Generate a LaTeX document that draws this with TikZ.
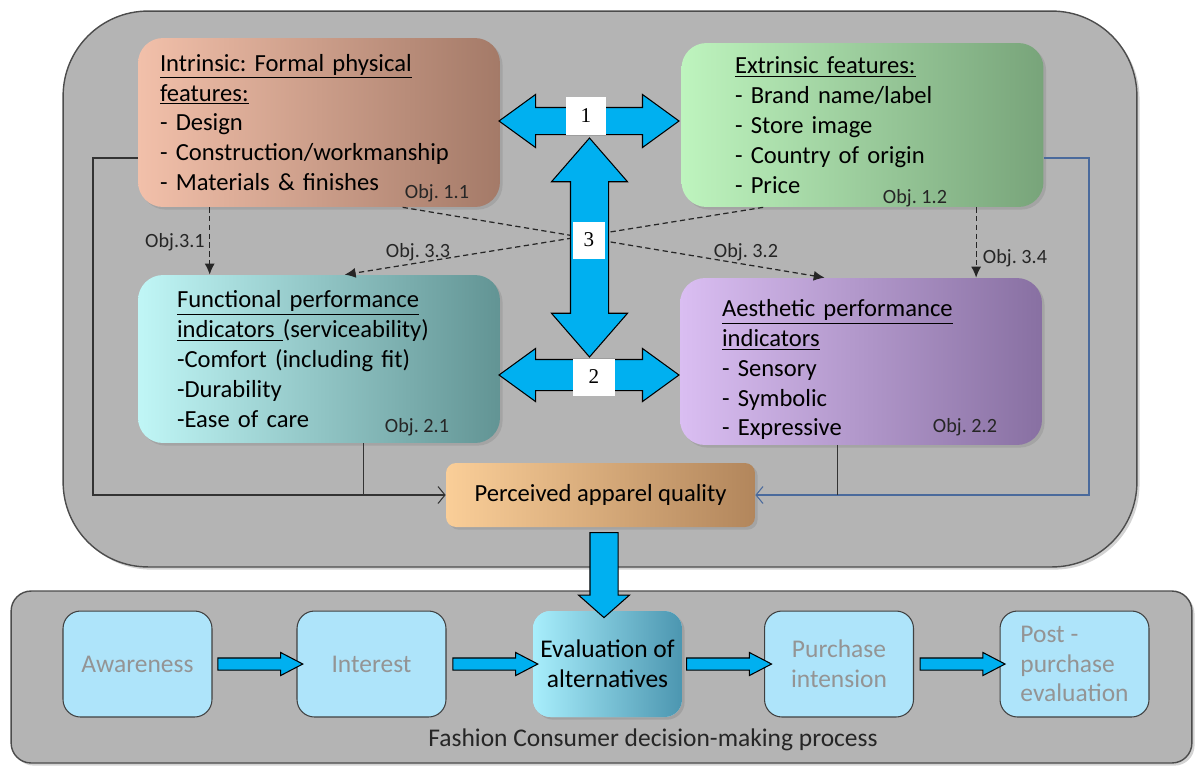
\documentclass[tikz,border=0pt]{standalone}
\usepackage{fontspec}
\setmainfont{Carlito}
\newfontfamily\numfont{Liberation Serif}
\frenchspacing
\usetikzlibrary{positioning, shapes.arrows, shadows, arrows.meta, calc}

\definecolor{framegray}{RGB}{180,180,180}
\definecolor{arrowblue}{RGB}{0,176,240}
\definecolor{stepblue}{RGB}{174,228,250}
\definecolor{fbblue}{RGB}{74,106,156}

\begin{document}
\begin{tikzpicture}[x=0.02cm, y=-0.02cm,
        frame/.style={draw=black!70, fill=framegray, line width=0.8pt,
          drop shadow={opacity=0.35, shadow xshift=1.5pt, shadow yshift=-1.5pt}},
        feat/.style={rounded corners=0.5cm, minimum width=7.24cm, minimum height=3.36cm,
          align=left, font=\fontsize{14}{17}\selectfont, inner ysep=0pt,
          drop shadow={opacity=0.3, shadow xshift=1.5pt, shadow yshift=-1.5pt}},
        obj/.style={font=\fontsize{11.5}{13}\selectfont, text=black!85, inner sep=1pt},
        dasharr/.style={draw=black!85, line width=0.7pt, dash pattern=on 3pt off 2pt,
          -{Latex[length=2.2mm,width=2mm]}},
        fbline/.style={line width=0.6pt, -{Straight Barb[length=1.4mm,width=3.4mm]}},
        blk/.style={draw=black, line width=0.6pt, fill=arrowblue},
        dblarr/.style={blk, double arrow, double arrow tip angle=72,
          minimum height=3.6cm, inner sep=0.26cm, double arrow head extend=0.26cm},
        numlbl/.style={fill=white, inner sep=0pt, font=\numfont\fontsize{12}{12}\selectfont},
        stepbox/.style={draw=black!75, line width=0.6pt, fill=stepblue, rounded corners=0.35cm,
          minimum width=2.98cm, minimum height=2.12cm, text=black!42, align=center,
          font=\fontsize{14.5}{17}\selectfont},
        steparr/.style={blk, single arrow, single arrow tip angle=55, minimum height=1.7cm,
          inner sep=0.11cm, single arrow head extend=0.11cm}]

        \useasboundingbox (0,0) rectangle (1195,765);

        % frames
        \node[frame, rounded corners=1.7cm, minimum width=21.48cm, minimum height=11.12cm]
          (topfr) at (600,289) {};
        \node[frame, rounded corners=0.4cm, minimum width=23.62cm, minimum height=3.44cm]
          (botfr) at (601.5,677) {};

        % quality features and performance indicators
        \node[feat, left color={rgb,255:red,242;green,192;blue,170}, right color={rgb,255:red,164;green,122;blue,104},
          inner xsep=0.44cm, text width=6.36cm, minimum height=3.38cm] (intr) at (319,122.5)
          {\underline{Intrinsic: Formal physical}\\ \underline{features:}\\- Design\\- Construction/workmanship\\- Materials \& finishes};
        \node[feat, left color={rgb,255:red,190;green,244;blue,190}, right color={rgb,255:red,120;green,164;blue,122},
          inner xsep=1.06cm, text width=5.1cm, minimum height=3.28cm] (extr) at (862.5,125)
          {\underline{Extrinsic features:}\\- Brand name/label\\- Store image\\- Country of origin\\- Price};
        \node[feat, left color={rgb,255:red,192;green,246;blue,246}, right color={rgb,255:red,98;green,148;blue,148},
          inner xsep=0.78cm, text width=5.68cm] (func) at (319,359)
          {\underline{Functional performance}\\ \underline{indicators }(serviceability)\\-Comfort (including fit)\\-Durability\\-Ease of care};
        \node[feat, left color={rgb,255:red,218;green,190;blue,242}, right color={rgb,255:red,136;green,112;blue,162},
          inner xsep=0.84cm, text width=5.56cm, minimum height=3.34cm] (aest) at (861,361.5)
          {\rule{0pt}{19pt}\underline{Aesthetic performance}\\ \underline{indicators}\\- Sensory\\- Symbolic\\- Expressive};
        \node[feat, left color={rgb,255:red,250;green,206;blue,152}, right color={rgb,255:red,178;green,134;blue,92},
          rounded corners=0.2cm, minimum width=6.18cm, minimum height=1.28cm, align=center] (perc) at (600.5,495)
          {Perceived apparel quality};

        \node[obj] (o11) at (437,193) {Obj. 1.1};
        \node[obj] (o12) at (915,198) {Obj. 1.2};
        \node[obj] (o21) at (417,427) {Obj. 2.1};
        \node[obj] (o22) at (965,427) {Obj. 2.2};

        % objective 3 links
        \draw[dasharr] ([xshift=1.44cm]intr.south west) -- ([xshift=1.44cm]intr.south west |- func.north);
        \draw[dasharr] ([xshift=5.9cm]extr.south west) -- ([xshift=5.9cm]extr.south west |- aest.north);
        \draw[dasharr] ([xshift=5.3cm]intr.south west) -- ([xshift=2.9cm]aest.north west);
        \draw[dasharr] ([xshift=1.64cm]extr.south west) -- ([xshift=4.14cm]func.north west);
        \node[obj] (o31) at (175,242) {Obj.3.1};
        \node[obj] (o33) at (418,252) {Obj. 3.3};
        \node[obj] (o32) at (746,252) {Obj. 3.2};
        \node[obj] (o34) at (1015,258) {Obj. 3.4};

        % feedback to perceived quality
        \coordinate (fbL) at (93,495);
        \coordinate (fbR) at (1089,495);
        \draw[fbline, draw=black!80] ([yshift=-0.71cm]intr.west) -| (fbL) -- (perc.west);
        \draw[line width=0.6pt, draw=black!80] ([xshift=4.52cm]func.south west) -- ([xshift=4.52cm]func.south west |- perc.west);
        \draw[fbline, draw=fbblue] ([yshift=-0.66cm]extr.east) -| (fbR) -- (perc.east);
        \draw[line width=0.6pt, draw=black!80] ([xshift=3.16cm]aest.south west) -- ([xshift=3.16cm]aest.south west |- perc.east);

        % block arrows
        \node[dblarr] (a1) at (589,121) {};
        \node[dblarr, inner sep=0.3cm, double arrow head extend=0.22cm] (a2) at (589,375) {};
        \node[dblarr, shape border rotate=90, double arrow tip angle=82, minimum height=4.38cm,
          inner sep=0.37cm, double arrow head extend=0.38cm] (a3) at (589.5,247.5) {};
        \node[numlbl, minimum width=0.8cm, minimum height=0.76cm] (n1) at (586,116) {1};
        \node[numlbl, minimum width=0.64cm, minimum height=0.74cm] (n3) at (589,240) {3};
        \node[numlbl, minimum width=0.84cm, minimum height=0.74cm] (n2) at (594,377) {2};

        % decision-making process
        \node[stepbox] (aware) at (137.5,664) {Awareness};
        \node[stepbox] (inter) at (371.5,664) {Interest};
        \node[stepbox, draw=none, text=black, left color={rgb,255:red,168;green,238;blue,252},
          right color={rgb,255:red,76;green,150;blue,176},
          drop shadow={opacity=0.35, shadow xshift=1.5pt, shadow yshift=-1.5pt}] (evalalt) at (607.5,664)
          {Evaluation of\\alternatives};
        \node[stepbox] (purch) at (839,664) {Purchase\\intension};
        \node[stepbox, align=left] (post) at (1074.5,664) {Post -\\purchase\\evaluation};
        \node[font=\fontsize{14.5}{17}\selectfont, text=black!85] (cap) at (653,740)
          {Fashion Consumer decision-making process};

        \node[blk, single arrow, shape border rotate=270, single arrow tip angle=97, minimum height=1.7cm,
          inner sep=0.27cm, single arrow head extend=0.23cm] (down) at ($(perc.south)!.5!(evalalt.north)$) {};
        \node[steparr] (s1) at ($(aware.east)!.5!(inter.west)$) {};
        \node[steparr] (s2) at ($(inter.east)!.5!(evalalt.west)$) {};
        \node[steparr] (s3) at ($(evalalt.east)!.5!(purch.west)$) {};
        \node[steparr] (s4) at ($(purch.east)!.5!(post.west)$) {};
      \end{tikzpicture}
\end{document}
